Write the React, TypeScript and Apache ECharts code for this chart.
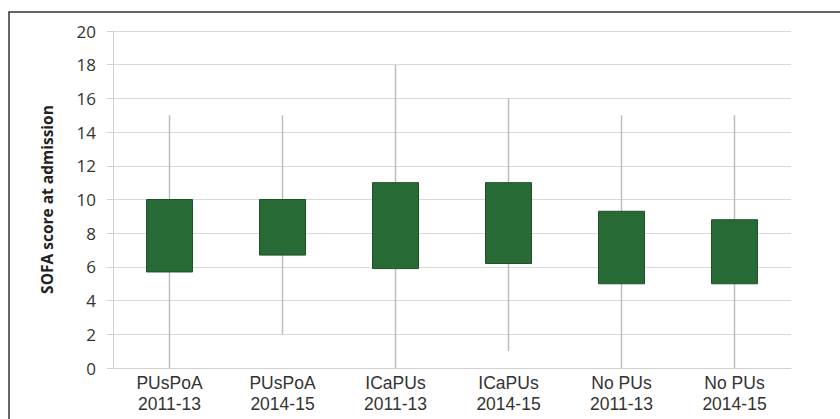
import React, { useEffect, useRef } from "react";
import * as echarts from "echarts";

const categories = [
  "PUsPoA\n2011-13",
  "PUsPoA\n2014-15",
  "ICaPUs\n2011-13",
  "ICaPUs\n2014-15",
  "No PUs\n2011-13",
  "No PUs\n2014-15",
];
const whiskerLow = [0, 2, 0, 1, 0, 0];
const boxLow = [5.7, 6.7, 5.9, 6.2, 5.0, 5.0];
const boxHigh = [10, 10, 11, 11, 9.3, 8.8];
const whiskerHigh = [15, 15, 18, 16, 15, 15];
const yTicks = { min: 0, max: 20, interval: 2 };

export default function App() {
  const ref = useRef<HTMLDivElement>(null);
  useEffect(() => {
    if (!ref.current) return;
    const chart = echarts.init(ref.current, undefined, { renderer: "svg" });
    const data = categories.map((_, i) => [i, whiskerLow[i], boxLow[i], boxHigh[i], whiskerHigh[i]]);
    chart.setOption({
      animation: false,
      backgroundColor: "#ffffff",
      grid: { left: 113, right: 49, top: 31, bottom: 51 },
      graphic: [
        {
          type: "polyline",
          shape: { points: [[9, 419], [9, 12], [840, 12]] },
          style: { stroke: "#333333", lineWidth: 1.5, fill: "none" },
          silent: true,
        },
      ],
      xAxis: {
        type: "category",
        data: categories,
        axisLine: { show: true, lineStyle: { color: "#d0d0d0", width: 1 } },
        axisTick: { show: false },
        splitLine: { show: false },
        axisLabel: {
          color: "#333333",
          fontFamily: "Liberation Sans, Arial, sans-serif",
          fontSize: 17.5,
          lineHeight: 21,
          margin: 4,
          interval: 0,
        },
      },
      yAxis: {
        type: "value",
        min: yTicks.min,
        max: yTicks.max,
        interval: yTicks.interval,
        name: "SOFA score at admission",
        nameLocation: "middle",
        nameGap: 58,
        nameTextStyle: {
          fontFamily: "Open Sans, sans-serif",
          fontWeight: "bold",
          fontSize: 15.5,
          color: "#222222",
        },
        axisLine: { show: true, lineStyle: { color: "#d0d0d0", width: 1 } },
        axisTick: { show: true, length: 6, lineStyle: { color: "#d0d0d0" } },
        splitLine: { show: true, lineStyle: { color: "#d9d9d9", width: 1 } },
        axisLabel: {
          color: "#333333",
          fontFamily: "Open Sans, sans-serif",
          fontSize: 17,
          margin: 17,
        },
      },
      series: [
        {
          type: "custom",
          data,
          encode: { x: 0, y: [1, 2, 3, 4] },
          renderItem: (params: any, api: any) => {
            const x = api.value(0);
            const lo = api.coord([x, api.value(1)]);
            const b1 = api.coord([x, api.value(2)]);
            const b2 = api.coord([x, api.value(3)]);
            const hi = api.coord([x, api.value(4)]);
            const w = 46;
            return {
              type: "group",
              children: [
                {
                  type: "line",
                  shape: { x1: lo[0], y1: lo[1], x2: hi[0], y2: hi[1] },
                  style: { stroke: "#bdbdbd", lineWidth: 1.5 },
                },
                {
                  type: "rect",
                  shape: { x: b1[0] - w / 2, y: b2[1], width: w, height: b1[1] - b2[1] },
                  style: { fill: "#276a35", stroke: "#1d5228", lineWidth: 1 },
                },
              ],
            };
          },
        },
      ],
    });
    return () => chart.dispose();
  }, []);
  return (
    <div
      ref={ref}
      style={{ position: "absolute", left: 0, top: 0, width: 840, height: 419 }}
    />
  );
}
